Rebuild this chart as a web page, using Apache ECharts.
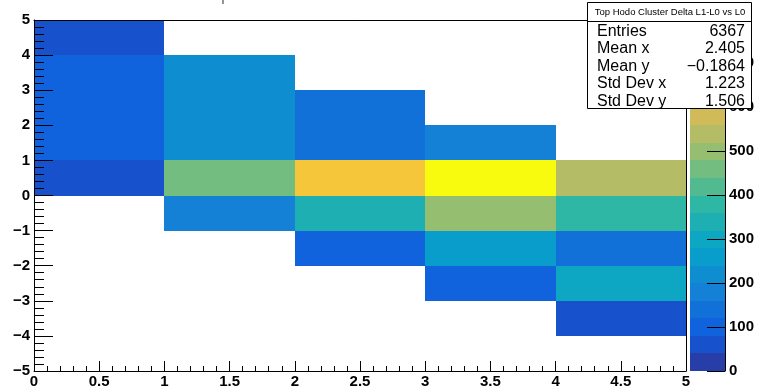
<!DOCTYPE html>
<html><head><meta charset="utf-8">
<script src="https://cdn.jsdelivr.net/npm/echarts@6/dist/echarts.min.js"></script>
<style>html,body{margin:0;padding:0;background:#fff}#c{width:757px;height:389px}</style>
</head><body><div id="c"></div>
<script>
// ---- data (bin lower edges and contents) ----
const binX = [0,0,0,0,0, 1,1,1,1,1, 2,2,2,2,2, 3,3,3,3,3, 4,4,4,4,4];
const binY = [4,3,2,1,0, 3,2,1,0,-1, 2,1,0,-1,-2, 1,0,-1,-2,-3, 0,-1,-2,-3,-4];
const binCount = [60,100,100,100,60, 220,220,220,460,180, 140,140,660,340,100, 180,798,500,260,100, 540,380,140,300,60];
const histTitle = 'Top Hodo Cluster Delta L1-L0 vs L0';
const statsNames = ['Entries','Mean x','Mean y','Std Dev x','Std Dev y'];
const statsValues = ['6367','2.405','\u22120.1864','1.223','1.506'];
const zMax = 798;
const nContours = 20;

// ---- ROOT kBird palette ----
const birdStops = [0,0.125,0.25,0.375,0.5,0.625,0.75,0.875,1];
const birdR = [0.2082,0.0592,0.0780,0.0232,0.1802,0.5301,0.8186,0.9956,0.9764];
const birdG = [0.1664,0.3599,0.5041,0.6419,0.7178,0.7492,0.7328,0.7862,0.9832];
const birdB = [0.5293,0.8684,0.8385,0.7914,0.6425,0.4662,0.3499,0.1968,0.0539];
function bird(f){
  let k = 0;
  while (k < birdStops.length-2 && f > birdStops[k+1]) k++;
  const t = (f - birdStops[k])/(birdStops[k+1]-birdStops[k]);
  const c = a => Math.round(255*(a[k] + t*(a[k+1]-a[k])));
  return 'rgb(' + c(birdR) + ',' + c(birdG) + ',' + c(birdB) + ')';
}
function bandIndex(v){
  let c = Math.floor(0.01 + v*nContours/zMax);
  return Math.max(0, Math.min(nContours-1, c));
}
function bandColor(c){
  const idx = Math.min(254, Math.floor((c+0.99)*255/nContours));
  return bird(idx/254);
}
const levels = [];
for (let i = 0; i < nContours; i++) levels.push([i*zMax/nContours, (i+1)*zMax/nContours, i]);

const FONT = 'Liberation Sans';
const minusFmt = v => (v < 0 ? '\u2212' + (-v) : String(v));
const R = Math.round;

function cellRect(p0, p1, col){
  const x0 = R(p0[0]), y0 = R(p0[1]), x1 = R(p1[0]), y1 = R(p1[1]);
  return {type:'rect', shape:{x:x0, y:y0, width:x1-x0, height:y1-y0}, style:{fill:col}};
}

const chart = echarts.init(document.getElementById('c'), null, {renderer:'canvas'});
chart.setOption({
  animation:false,
  backgroundColor:'#fff',
  grid:[
    {left:34, top:20, width:652, height:351, show:false},
    {left:690, top:20, width:36, height:351, show:false}
  ],
  xAxis:[
    {gridIndex:0, type:'value', min:0, max:5, interval:0.5, z:10,
     axisLine:{show:true, onZero:false, lineStyle:{color:'#000', width:1}},
     axisTick:{show:true, inside:true, length:10, lineStyle:{color:'#000'}},
     minorTick:{show:true, splitNumber:5, length:5, lineStyle:{color:'#000'}},
     splitLine:{show:false},
     axisLabel:{color:'#000', fontFamily:FONT, fontWeight:'bold', fontSize:15, margin:3}},
    {gridIndex:1, type:'value', min:0, max:1, show:false},
    {gridIndex:0, type:'value', min:0, max:5, position:'top', z:10,
     axisLine:{show:true, onZero:false, lineStyle:{color:'#000', width:1}},
     axisTick:{show:false}, axisLabel:{show:false}, splitLine:{show:false}}
  ],
  yAxis:[
    {gridIndex:0, type:'value', min:-5, max:5, interval:1, z:10,
     axisLine:{show:true, onZero:false, lineStyle:{color:'#000', width:1}},
     axisTick:{show:true, inside:true, length:19, lineStyle:{color:'#000'}},
     minorTick:{show:true, splitNumber:5, length:10, lineStyle:{color:'#000'}},
     splitLine:{show:false},
     axisLabel:{color:'#000', fontFamily:FONT, fontWeight:'bold', fontSize:15, margin:4, formatter:minusFmt}},
    {gridIndex:1, type:'value', min:0, max:zMax, interval:100, position:'right', z:10,
     axisLine:{show:true, onZero:false, lineStyle:{color:'#000', width:1}},
     axisTick:{show:true, inside:true, length:18, lineStyle:{color:'#000'}},
     splitLine:{show:false},
     axisLabel:{color:'#000', fontFamily:FONT, fontWeight:'bold', fontSize:15, margin:4, showMaxLabel:false}},
    {gridIndex:0, type:'value', min:-5, max:5, position:'right', z:10,
     axisLine:{show:true, onZero:false, lineStyle:{color:'#000', width:1}},
     axisTick:{show:false}, axisLabel:{show:false}, splitLine:{show:false}}
  ],
  series:[
    {type:'custom', xAxisIndex:0, yAxisIndex:0, z:2,
     data: binX.map((x,i)=>[x, binY[i], binCount[i]]),
     encode:{x:0, y:1},
     renderItem:function(params, api){
       const x = api.value(0), y = api.value(1), v = api.value(2);
       return cellRect(api.coord([x, y+1]), api.coord([x+1, y]), bandColor(bandIndex(v)));
     }},
    {type:'custom', xAxisIndex:1, yAxisIndex:1, z:2,
     data: levels,
     encode:{y:[0,1]},
     renderItem:function(params, api){
       const lo = api.value(0), hi = api.value(1), c = api.value(2);
       return cellRect(api.coord([0, hi]), api.coord([1, lo]), bandColor(c));
     }}
  ],
  graphic:[
    {type:'text', z:50, x:358, y:4,
     style:{text:histTitle, align:'center', verticalAlign:'bottom', fill:'#888',
            font:'20px "' + FONT + '"'}},
    {type:'group', z:100, children:[
      {type:'rect', z:100, shape:{x:587.5, y:2.5, width:164, height:106},
       style:{fill:'#fff', stroke:'#000', lineWidth:1}},
      {type:'line', z:101, shape:{x1:587.5, y1:21.5, x2:751.5, y2:21.5},
       style:{stroke:'#000', lineWidth:1}},
      {type:'text', z:101, x:670, y:12,
       style:{text:histTitle, align:'center', verticalAlign:'middle', fill:'#000', font:'9.5px "' + FONT + '"'}}
    ].concat(statsNames.map((n,i)=>({type:'text', z:101, x:597, y:31.5+17.4*i,
       style:{text:n, align:'left', verticalAlign:'middle', fill:'#000', font:'16px "' + FONT + '"'}})))
     .concat(statsValues.map((v,i)=>({type:'text', z:101, x:745, y:31.5+17.4*i,
       style:{text:v, align:'right', verticalAlign:'middle', fill:'#000', font:'16px "' + FONT + '"'}})))
    }
  ]
});
</script>
</body></html>
